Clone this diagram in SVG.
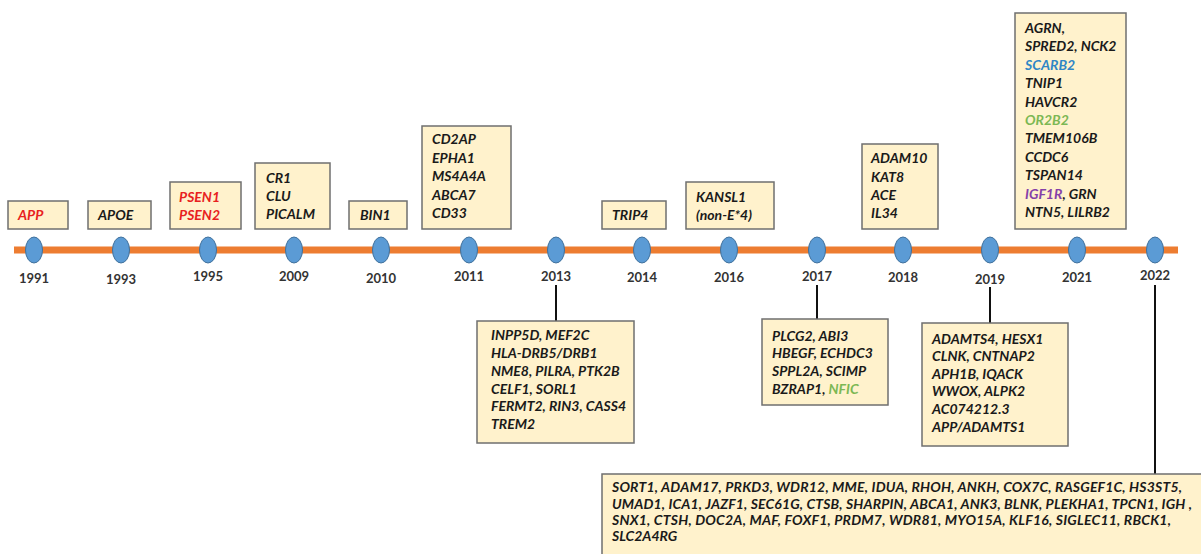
<svg xmlns="http://www.w3.org/2000/svg" width="1201" height="554" viewBox="0 0 1201 554">
<style>
.bg{fill:#ffffff}
.box{fill:#FFF2CC;stroke:#6f6f6f;stroke-width:1.5}
.t{font-family:Lato,"Liberation Sans",sans-serif;font-weight:bold;font-style:italic;font-size:14px;fill:#1a1a1a}
.yr{font-family:Lato,"Liberation Sans",sans-serif;font-weight:bold;font-size:13px;fill:#333333;text-anchor:middle}
.red{fill:#E8211E}
.blue{fill:#2F86C6}
.green{fill:#7CB854}
.purple{fill:#8540A8}
.node{fill:#5B9BD5;stroke:#41719C;stroke-width:1}
.axis{stroke:#ED7D31;stroke-width:7}
.conn{stroke:#111111;stroke-width:2;fill:none}
</style>
<rect class="bg" x="0" y="0" width="1201" height="554"/>
<g id="timeline">
<line class="axis" x1="14" y1="250" x2="1178" y2="250"/>
</g>
<g id="connectors">
<line class="conn" x1="556" y1="285" x2="556" y2="321"/>
<line class="conn" x1="817" y1="285" x2="817" y2="319"/>
<line class="conn" x1="990" y1="287" x2="990" y2="323"/>
<line class="conn" x1="1155" y1="285" x2="1155" y2="474"/>
</g>
<g id="n1991"><ellipse class="node" cx="34" cy="250" rx="8.5" ry="13"/><text class="yr" x="34" y="283">1991</text></g>
<g id="n1993"><ellipse class="node" cx="121" cy="250" rx="8.5" ry="13"/><text class="yr" x="121" y="284">1993</text></g>
<g id="n1995"><ellipse class="node" cx="208" cy="250" rx="8.5" ry="13"/><text class="yr" x="208" y="281">1995</text></g>
<g id="n2009"><ellipse class="node" cx="294" cy="250" rx="8.5" ry="13"/><text class="yr" x="294" y="281">2009</text></g>
<g id="n2010"><ellipse class="node" cx="381" cy="250" rx="8.5" ry="13"/><text class="yr" x="381" y="283">2010</text></g>
<g id="n2011"><ellipse class="node" cx="469" cy="250" rx="8.5" ry="13"/><text class="yr" x="469" y="281">2011</text></g>
<g id="n2013"><ellipse class="node" cx="556" cy="250" rx="8.5" ry="13"/><text class="yr" x="556" y="281">2013</text></g>
<g id="n2014"><ellipse class="node" cx="642" cy="250" rx="8.5" ry="13"/><text class="yr" x="642" y="282">2014</text></g>
<g id="n2016"><ellipse class="node" cx="729" cy="250" rx="8.5" ry="13"/><text class="yr" x="729" y="282">2016</text></g>
<g id="n2017"><ellipse class="node" cx="817" cy="250" rx="8.5" ry="13"/><text class="yr" x="817" y="281">2017</text></g>
<g id="n2018"><ellipse class="node" cx="903" cy="250" rx="8.5" ry="13"/><text class="yr" x="903" y="282">2018</text></g>
<g id="n2019"><ellipse class="node" cx="990" cy="250" rx="8.5" ry="13"/><text class="yr" x="990" y="284">2019</text></g>
<g id="n2021"><ellipse class="node" cx="1077" cy="250" rx="8.5" ry="13"/><text class="yr" x="1077" y="282">2021</text></g>
<g id="n2022"><ellipse class="node" cx="1155" cy="250" rx="8.5" ry="13"/><text class="yr" x="1155" y="280">2022</text></g>

<g id="b1991"><rect class="box" x="8" y="201" width="60" height="28"/><text class="t red" x="18" y="220">APP</text></g>
<g id="b1993"><rect class="box" x="88" y="201" width="63" height="28"/><text class="t" x="98" y="220">APOE</text></g>
<g id="b1995"><rect class="box" x="170" y="182" width="71" height="47"/><text class="t red" x="179" y="202">PSEN1</text><text class="t red" x="179" y="220">PSEN2</text></g>
<g id="b2009"><rect class="box" x="255" y="163" width="75" height="66"/><text class="t" x="266" y="183">CR1</text><text class="t" x="266" y="201">CLU</text><text class="t" x="266" y="219">PICALM</text></g>
<g id="b2010"><rect class="box" x="349" y="201" width="58" height="28"/><text class="t" x="360" y="220">BIN1</text></g>
<g id="b2011"><rect class="box" x="422" y="126" width="89" height="103"/><text class="t" x="432" y="144">CD2AP</text><text class="t" x="432" y="163">EPHA1</text><text class="t" x="432" y="181">MS4A4A</text><text class="t" x="432" y="200">ABCA7</text><text class="t" x="432" y="218">CD33</text></g>
<g id="b2014"><rect class="box" x="602" y="201" width="64" height="28"/><text class="t" x="612" y="220">TRIP4</text></g>
<g id="b2016"><rect class="box" x="686" y="182" width="88" height="47"/><text class="t" x="696" y="202">KANSL1</text><text class="t" x="696" y="220">(non-E*4)</text></g>
<g id="b2018"><rect class="box" x="862" y="144" width="76" height="85"/><text class="t" x="871" y="163">ADAM10</text><text class="t" x="871" y="182">KAT8</text><text class="t" x="871" y="200">ACE</text><text class="t" x="871" y="218">IL34</text></g>
<g id="b2021"><rect class="box" x="1015" y="13" width="111" height="216"/>
<text class="t" x="1025" y="33">AGRN,</text>
<text class="t" x="1025" y="51">SPRED2, NCK2</text>
<text class="t blue" x="1025" y="70">SCARB2</text>
<text class="t" x="1025" y="88">TNIP1</text>
<text class="t" x="1025" y="107">HAVCR2</text>
<text class="t green" x="1025" y="125">OR2B2</text>
<text class="t" x="1025" y="143">TMEM106B</text>
<text class="t" x="1025" y="162">CCDC6</text>
<text class="t" x="1025" y="180">TSPAN14</text>
<text class="t" x="1025" y="199"><tspan class="purple">IGF1R</tspan>, GRN</text>
<text class="t" x="1025" y="217">NTN5, LILRB2</text>
</g>
<g id="b2013"><rect class="box" x="477" y="321" width="157" height="122"/>
<text class="t" x="491" y="340">INPP5D, MEF2C</text>
<text class="t" x="491" y="358">HLA-DRB5/DRB1</text>
<text class="t" x="491" y="376">NME8, PILRA, PTK2B</text>
<text class="t" x="491" y="394">CELF1, SORL1</text>
<text class="t" x="491" y="411">FERMT2, RIN3, CASS4</text>
<text class="t" x="491" y="429">TREM2</text>
</g>
<g id="b2017"><rect class="box" x="762" y="319" width="126" height="86"/>
<text class="t" x="772" y="341">PLCG2, ABI3</text>
<text class="t" x="772" y="358">HBEGF, ECHDC3</text>
<text class="t" x="772" y="376">SPPL2A, SCIMP</text>
<text class="t" x="772" y="394">BZRAP1, <tspan class="green">NFIC</tspan></text>
</g>
<g id="b2019"><rect class="box" x="922" y="323" width="146" height="123"/>
<text class="t" x="932" y="344">ADAMTS4, HESX1</text>
<text class="t" x="932" y="361">CLNK, CNTNAP2</text>
<text class="t" x="932" y="379">APH1B, IQACK</text>
<text class="t" x="932" y="396">WWOX, ALPK2</text>
<text class="t" x="932" y="414">AC074212.3</text>
<text class="t" x="932" y="432">APP/ADAMTS1</text>
</g>
<g id="b2022"><rect class="box" x="602" y="474" width="620" height="100"/>
<text class="t" x="612" y="492" textLength="570" lengthAdjust="spacing">SORT1, ADAM17, PRKD3, WDR12, MME, IDUA, RHOH, ANKH, COX7C, RASGEF1C, HS3ST5,</text>
<text class="t" x="612" y="509" textLength="580" lengthAdjust="spacing">UMAD1, ICA1, JAZF1, SEC61G, CTSB, SHARPIN, ABCA1, ANK3, BLNK, PLEKHA1, TPCN1, IGH ,</text>
<text class="t" x="612" y="525" textLength="559" lengthAdjust="spacing">SNX1, CTSH, DOC2A,  MAF, FOXF1, PRDM7, WDR81, MYO15A, KLF16, SIGLEC11, RBCK1,</text>
<text class="t" x="612" y="541">SLC2A4RG</text>
</g>
</svg>
